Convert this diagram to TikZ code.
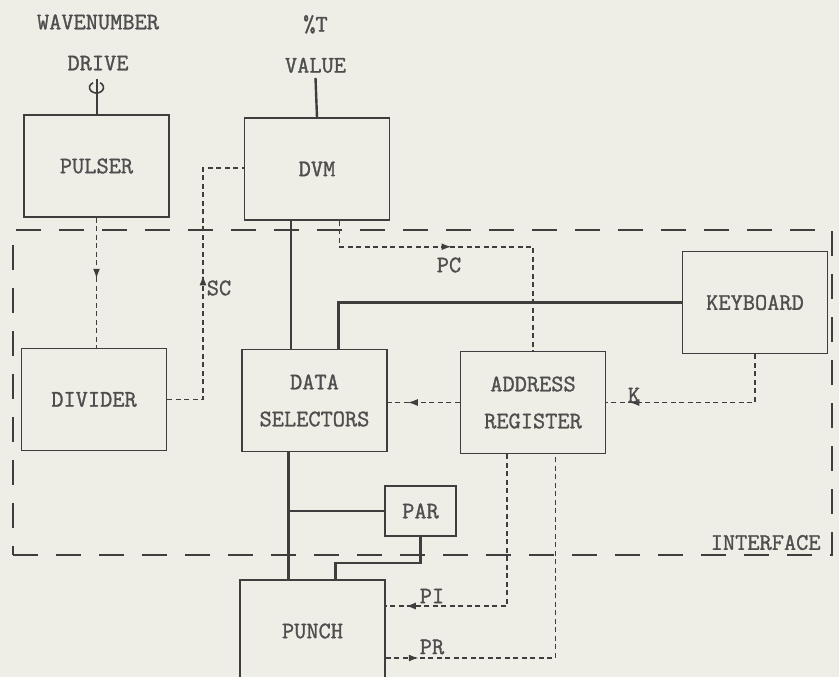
\documentclass[tikz,border=0pt]{standalone}
\usepackage{fontspec}
\usetikzlibrary{positioning,calc,arrows.meta,decorations.markings}
\definecolor{paper}{RGB}{239,238,230}
\definecolor{ink}{RGB}{62,62,62}
\definecolor{typeink}{RGB}{78,78,78}
\newfontface\twmono{lmmono12-regular.otf}[FakeBold=1.2]
\newcommand\twfont{\fontsize{23.7}{37}\selectfont\twmono}
\newcommand\twfontwide{\fontsize{23.7}{41}\selectfont\twmono}

\begin{document}
\begin{tikzpicture}[
    x=1pt, y=-1pt,
    blk/.style={rectangle, draw=ink, line width=1.5pt, minimum width=145pt,
                minimum height=102pt, inner sep=0pt, align=center,
                font=\twfont, text=typeink},
    smallblk/.style={blk, minimum width=71pt, minimum height=50pt},
    txt/.style={font=\twfont, text=typeink, inner sep=0pt},
    toplbl/.style={font=\twfontwide, text=typeink, inner sep=0pt, align=center},
    iface/.style={rectangle, draw=ink, line width=1.6pt,
                  dash pattern=on 25pt off 18pt, minimum width=819pt,
                  minimum height=325pt, inner sep=0pt},
    bus/.style={draw=ink, line width=2.4pt},
    sig/.style={draw=ink, line width=1.6pt, dash pattern=on 5pt off 3.5pt},
    midarr/.style={postaction={decorate, decoration={markings,
        mark=at position #1 with {\arrow{Latex[length=10pt,width=7pt]}}}}}
]
\useasboundingbox (0,0) rectangle (839,677);
\fill[paper] (0,0) rectangle (839,677);
\clip (0,0) rectangle (839,677);

% Interface boundary
\node[iface] (iface) at (422.5,392.5) {};
\node[txt, anchor=base east] (ifacelbl) at ([xshift=-12pt,yshift=6pt]iface.south east) {INTERFACE};

% Blocks
\node[blk] (pulser) at (96.5,166) {PULSER};
\node[blk, right=74pt of pulser, yshift=-3pt] (dvm) {DVM};
\node[blk, below=130pt of pulser, xshift=-2.5pt] (divider) {DIVIDER};
\node[blk, below=128pt of dvm, xshift=-2.5pt] (datasel) {DATA\\SELECTORS};
\node[blk, right=72pt of datasel, yshift=-2pt] (addr) {ADDRESS\\REGISTER};
\node[blk, right=75.5pt of addr, yshift=100pt] (keyb) {KEYBOARD};
\node[blk, below=127pt of datasel, xshift=-2pt] (punch) {PUNCH};
\node[smallblk] (par) at (420.5,511) {PAR};

% Inputs on top
\node[toplbl] (wave) at (98,42.5) {WAVENUMBER\\DRIVE};
\node[toplbl] (tval) at (315.5,44) {\%T\\VALUE};
\coordinate (shaft) at (96.5,79);
\coordinate (tvlead) at (315.5,78);
\draw[bus, line width=2pt] (pulser.north) -- (shaft);
\draw[ink, line width=1.6pt] ($(shaft)+(0,8.5)$) ++(-60:7 and 5.5)
    arc[start angle=-60, end angle=240, x radius=7, y radius=5.5];
\draw[bus] (dvm.north) -- (tvlead);

% Control lines
\coordinate (scbend) at (203,168);
\draw[sig, midarr=61pt] (pulser.south) -- (pulser.south |- divider.north);
\draw[sig, midarr=160pt] (divider.east) -| (scbend) -- (scbend -| dvm.west);
\node[txt] (sclbl) at (219,288) {SC};
\draw[sig, midarr=138pt] ([xshift=22.5pt]dvm.south) -- ++(0,26) -| (addr.north);
\node[txt] (pclbl) at (449,265) {PC};
\draw[sig, midarr=52pt] (addr.west) -- (addr.west -| datasel.east);
\draw[sig, midarr=174pt] (keyb.south) |- (addr.east);
\node[txt] (klbl) at (634,395) {K};
\draw[sig, midarr=253pt] ([xshift=-26pt]addr.south) |- ([yshift=25pt]punch.east);
\node[txt] (pilbl) at (432,596) {PI};
\draw[sig, midarr=33pt] ([yshift=-27pt]punch.east) -| ([xshift=22.5pt]addr.south);
\node[txt] (prlbl) at (432,647) {PR};

% Data buses
\draw[bus] ([xshift=-26pt]dvm.south) -- ([xshift=-26pt]dvm.south |- datasel.north);
\draw[bus] ([xshift=24pt]datasel.north) |- (keyb.west);
\draw[bus] ([xshift=-26pt]datasel.south) -- ([xshift=-26pt]datasel.south |- punch.north);
\draw[bus] ([xshift=-26pt]datasel.south |- par.west) -- (par.west);
\draw[bus] (par.south) -- ++(0,26) -| ([xshift=23pt]punch.north);

\end{tikzpicture}
\end{document}
